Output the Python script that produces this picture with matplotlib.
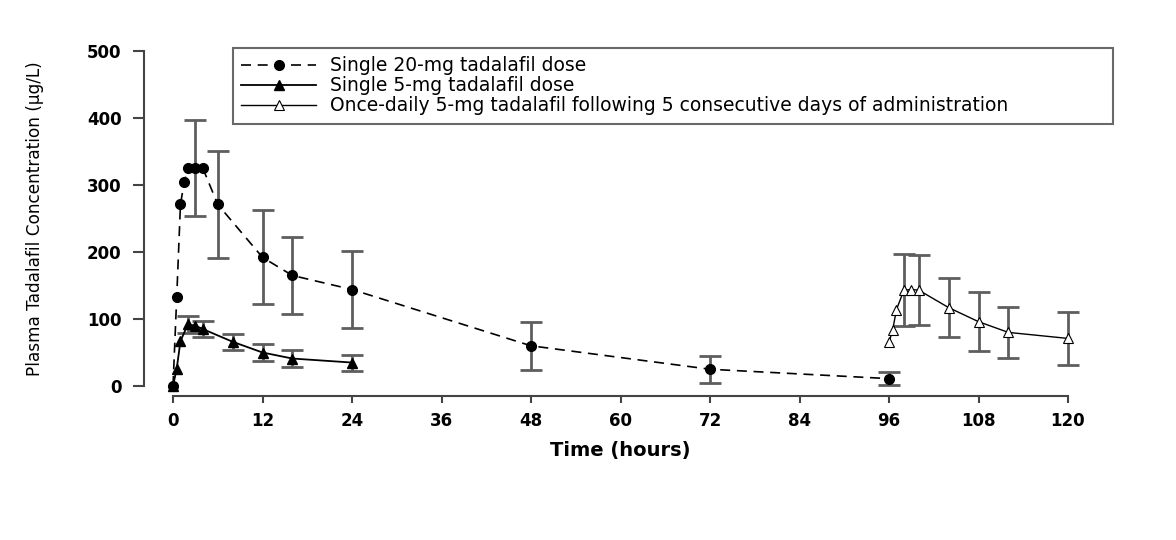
import numpy as np
import matplotlib
import matplotlib.pyplot as plt
matplotlib.use('Agg')

plt.rcParams['font.family'] = ['DejaVu Sans']

# Single 20-mg dose
t20 = [0, 0.5, 1, 1.5, 2, 3, 4, 6, 12, 16, 24, 48, 72, 96]
c20 = [0, 133, 271, 304, 325, 325, 325, 271, 192, 165, 144, 60, 25, 11]
e20 = [np.nan, np.nan, np.nan, np.nan, np.nan, 72, np.nan, 80, 70, 58, 57, 36, 20, 10]

# Single 5-mg dose
t5 = [0, 0.5, 1, 2, 3, 4, 8, 12, 16, 24]
c5 = [0, 26, 67, 92, 90, 85, 66, 50, 41, 35]
e5 = [np.nan, np.nan, np.nan, 13, np.nan, 12, 12, 12, 12, 12]

# Once-daily 5-mg, day 5
tod = [96, 96.5, 97, 98, 99, 100, 104, 108, 112, 120]
cod = [65, 84, 114, 143, 144, 143, 117, 96, 80, 71]
eod = [np.nan, np.nan, np.nan, 54, np.nan, 52, 44, 44, 38, 39]

labels = ['Single 20-mg tadalafil dose',
          'Single 5-mg tadalafil dose',
          'Once-daily 5-mg tadalafil following 5 consecutive days of administration']

fig = plt.figure(figsize=(11.76, 5.4), dpi=100)
ax = fig.add_axes([173 / 1176, 154 / 540, 895 / 1176, 335 / 540])

errcol = '#5e5e5e'


def draw_errors(t, c, e):
    t, c, e = np.array(t), np.array(c), np.array(e)
    m = ~np.isnan(e)
    ax.errorbar(t[m], c[m], yerr=e[m], fmt='none', ecolor=errcol,
                elinewidth=2, capsize=8, capthick=2, clip_on=False, zorder=2)


draw_errors(t20, c20, e20)
draw_errors(t5, c5, e5)
draw_errors(tod, cod, eod)

ax.plot(t20, c20, color='black', linestyle=(0, (6, 4)), linewidth=1.2,
        marker='o', markersize=7, markerfacecolor='black',
        label=labels[0], clip_on=False, zorder=3)
ax.plot(t5, c5, color='black', linestyle='-', linewidth=1.3,
        marker='^', markersize=7, markerfacecolor='black',
        label=labels[1], clip_on=False, zorder=3)
ax.plot(tod, cod, color='black', linestyle='-', linewidth=1,
        marker='^', markersize=7, markerfacecolor='white', markeredgewidth=0.8,
        label=labels[2], clip_on=False, zorder=3)

ax.set_xlim(0, 120)
ax.set_ylim(0, 500)
ax.set_xticks(np.arange(0, 121, 12))
ax.set_yticks(np.arange(0, 501, 100))

for s in ['top', 'right']:
    ax.spines[s].set_visible(False)
ax.spines['left'].set_position(('outward', 21))
ax.spines['bottom'].set_position(('outward', 7.5))
for s in ['left', 'bottom']:
    ax.spines[s].set_color('#444444')
    ax.spines[s].set_linewidth(1.5)
ax.tick_params(direction='out', width=1.5, color='#444444', labelsize=12)
ax.tick_params(axis='x', length=5, pad=6)
ax.tick_params(axis='y', length=8, pad=8)
for lab in ax.get_xticklabels() + ax.get_yticklabels():
    lab.set_fontweight('bold')

ax.set_xlabel('Time (hours)', fontsize=14, fontweight='bold', labelpad=8)
fig.text(35 / 1176, 0.595, 'Plasma Tadalafil Concentration (\u03bcg/L)',
         rotation=90, ha='center', va='center', fontsize=12.2)

leg = ax.legend(loc='upper left',
                bbox_to_anchor=(233 / 1176, 1 - 48 / 540, 880 / 1176, 0),
                bbox_transform=fig.transFigure, mode='expand',
                fontsize=13.5, frameon=True, fancybox=False,
                handlelength=4, handletextpad=0.7,
                labelspacing=0.05, borderpad=0.45, borderaxespad=0)
leg.get_frame().set_edgecolor('#444444')
leg.get_frame().set_linewidth(1.5)

fig.savefig('out.png', dpi=100)
